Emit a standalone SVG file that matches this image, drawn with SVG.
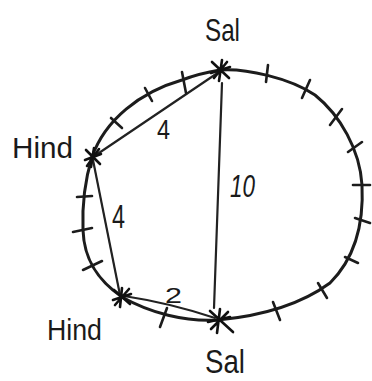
<svg xmlns="http://www.w3.org/2000/svg" width="372" height="381" viewBox="0 0 372 381">
<style>
.bg{fill:#ffffff}
.loop{fill:none;stroke:#1c1c1c;stroke-width:3;stroke-linecap:round;stroke-linejoin:round}
.chord{fill:none;stroke:#222;stroke-width:2.2;stroke-linecap:round}
.tick{fill:none;stroke:#1c1c1c;stroke-width:2.6;stroke-linecap:round}
.star{fill:none;stroke:#111;stroke-width:2.6;stroke-linecap:round}
.lbl{font-family:"Liberation Sans","DejaVu Sans",sans-serif;fill:#1a1a1a;lengthAdjust:spacingAndGlyphs}
</style>
<rect class="bg" x="0" y="0" width="372" height="381"/>
<g id="connectors">
  <path class="loop" d="M220,70 C245,68 290,78 315,95 C340,115 360,150 362,185 C364,225 355,258 330,283 C300,305 260,316 218,320 C185,322 150,313 122,297 C100,282 84,262 83,230 C82,205 85,180 92,157 C105,120 140,92 182,80 C195,75 208,72 220,70 Z"/>
  <path class="chord" d="M93,157 L219,72"/>
  <path class="chord" d="M93,160 Q106,225 120,295"/>
  <path class="chord" d="M124,296 Q170,303 215,318"/>
  <path class="chord" d="M222,83 L214,308"/>
  <g id="ticks">
    <path class="tick" d="M111,118 L122,128"/>
    <path class="tick" d="M145,88 L152,101"/>
    <path class="tick" d="M182,72 L186,93"/>
    <path class="tick" d="M268,65 L266,82"/>
    <path class="tick" d="M310,80 L302,98"/>
    <path class="tick" d="M342,109 L330,125"/>
    <path class="tick" d="M362,142 L348,152"/>
    <path class="tick" d="M353,185 L370,185"/>
    <path class="tick" d="M355,218 L370,223"/>
    <path class="tick" d="M345,257 L358,263"/>
    <path class="tick" d="M318,283 L327,298"/>
    <path class="tick" d="M273,302 L280,320"/>
    <path class="tick" d="M167,308 L160,327"/>
    <path class="tick" d="M83,270 L102,261"/>
    <path class="tick" d="M73,232 L92,228"/>
    <path class="tick" d="M77,197 L92,196"/>
  </g>
  <g id="edge-labels">
    <text class="lbl" x="157" y="139" font-size="28" textLength="13" lengthAdjust="spacingAndGlyphs">4</text>
    <text class="lbl" x="112" y="228" font-size="34" textLength="13" lengthAdjust="spacingAndGlyphs">4</text>
    <text class="lbl" x="230" y="197" font-size="32" font-style="italic" textLength="25" lengthAdjust="spacingAndGlyphs">10</text>
    <text class="lbl" x="165" y="303" font-size="22" textLength="17" lengthAdjust="spacingAndGlyphs">2</text>
  </g>
</g>
<g id="sal-top">
  <path class="star" d="M212,62 L229,78 M211,73 L230,67 M222,60 L219,81 M214,78 L227,62"/>
  <text class="lbl" x="205" y="41" font-size="32" textLength="35" lengthAdjust="spacingAndGlyphs">Sal</text>
</g>
<g id="hind-top">
  <path class="star" d="M86,150 L100,164 M85,160 L101,154 M94,148 L91,167 M87,166 L99,149"/>
  <text class="lbl" x="12" y="158" font-size="30" textLength="61" lengthAdjust="spacingAndGlyphs">Hind</text>
</g>
<g id="hind-bottom">
  <path class="star" d="M114,290 L130,304 M113,300 L131,294 M122,288 L120,307 M115,305 L129,289"/>
  <text class="lbl" x="47" y="340" font-size="29" textLength="55" lengthAdjust="spacingAndGlyphs">Hind</text>
</g>
<g id="sal-bottom">
  <path class="star" d="M210,311 L233,332 M208,322 L230,317 M220,309 L217,333 M211,329 L228,312"/>
  <text class="lbl" x="205" y="373" font-size="34" textLength="40" lengthAdjust="spacingAndGlyphs">Sal</text>
</g>
</svg>
